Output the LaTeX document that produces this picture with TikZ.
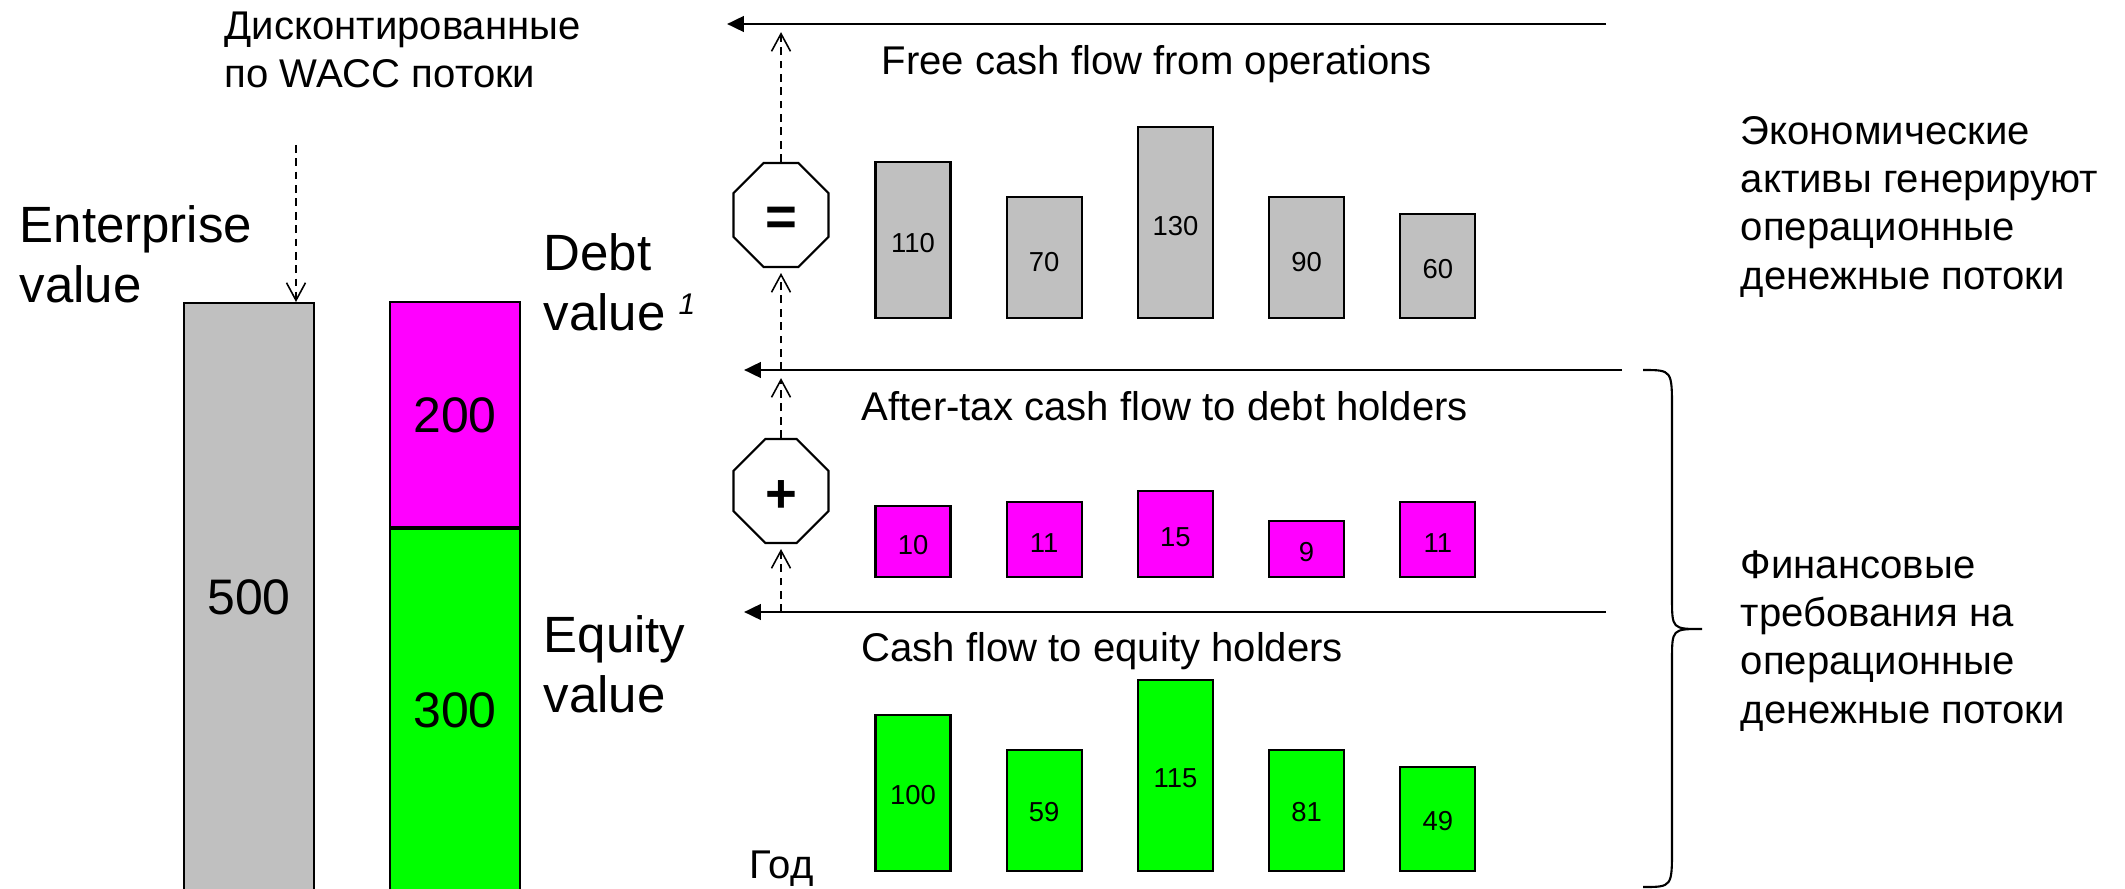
\documentclass[tikz,border=0pt]{standalone}
\usepackage{fontspec}
\setmainfont{Liberation Sans}
\usetikzlibrary{arrows.meta,shapes.misc}
\definecolor{cfgray}{HTML}{C0C0C0}
\definecolor{cfdebt}{HTML}{FF00FF}
\definecolor{cfequity}{HTML}{00FF00}

\begin{document}
\begin{tikzpicture}[x=0.01cm,y=-0.01cm,
  lbl/.style={inner sep=0pt,anchor=base west,align=left,font=\fontsize{11.4}{13.7}\selectfont},
  biglbl/.style={inner sep=0pt,anchor=base west,align=left,font=\fontsize{14.5}{17}\selectfont},
  bignum/.style={inner sep=0pt,font=\fontsize{14.2}{17}\selectfont},
  num/.style={inner sep=0pt,font=\fontsize{7.8}{9}\selectfont},
  bar/.style={draw,line width=0.6pt,inner sep=0pt,minimum width=0.75cm,anchor=south},
  bigbar/.style={draw,line width=0.6pt,inner sep=0pt,minimum width=1.3cm,anchor=north},
  octa/.style={draw,line width=0.6pt,fill=white,chamfered rectangle,
    chamfered rectangle xsep=0.28cm,chamfered rectangle ysep=0.275cm,
    minimum width=0.95cm,minimum height=1.04cm,inner sep=0pt,
    font=\fontsize{15.5}{17}\selectfont\bfseries},
  mainarrow/.style={line width=0.8pt,-{Triangle[length=4.8pt,width=4.4pt]}},
  dasharrow/.style={line width=0.45pt,dash pattern=on 2.2pt off 1.6pt,
    -{Straight Barb[length=5pt,width=5.4pt]}}]
  \useasboundingbox (0,0) rectangle (2125,888);
  \clip (0,0) rectangle (2125,888);

  % left: values
  \node[bigbar,fill=cfgray,minimum height=6cm] (ev) at (249,302) {};
  \node[bigbar,fill=cfdebt,minimum height=2.25cm] (dv) at (455,301) {};
  \node[bigbar,fill=cfequity,minimum height=3.8cm] (qv) at (dv.south) {};
  \node[bignum] (evnum) at (249,597) {500};
  \node[bignum] (dvnum) at (455,415) {200};
  \node[bignum] (qvnum) at (455,710) {300};
  \node[biglbl] (evlbl) at (19,302) {Enterprise\\value};
  \node[biglbl] (dvlbl) at (543,330) {Debt\\value};
  \node[inner sep=0pt,font=\fontsize{8.5}{10}\selectfont\itshape] (dvnote) at (687,304) {1};
  \node[biglbl] (qvlbl) at (543,712) {Equity\\value};
  \node[lbl] (dsc) at (224,88) {Дисконтированные\\по WACC потоки};
  \coordinate (dscS) at (296,145);
  \draw[dasharrow] (dscS) -- (dscS |- ev.north);

  % flow lines
  \coordinate (fcfR) at (1606,24);  \coordinate (fcfL) at (727,24);
  \coordinate (dbtR) at (1622,370); \coordinate (dbtL) at (744,370);
  \coordinate (eqtR) at (1606,612); \coordinate (eqtL) at (744,612);
  \draw[mainarrow] (fcfR) -- (fcfL);
  \draw[mainarrow] (dbtR) -- (dbtL);
  \draw[mainarrow] (eqtR) -- (eqtL);
  \node[lbl] (fcflbl) at (881,75) {Free cash flow from operations};
  \node[lbl] (dbtlbl) at (861,420) {After-tax cash flow to debt holders};
  \node[lbl] (eqtlbl) at (861,661) {Cash flow to equity holders};
  \node[lbl] (year) at (749,878) {Год};

  % bars
  \foreach \v/\t/\l [count=\i] in {110/163/243,70/198/262,130/128/226,90/198/262,60/215/269}{
    \node[bar,fill=cfgray,minimum height={(319-\t)*0.01cm}] (fcf\i) at ({913+131.2*(\i-1)},319) {};
    \node[num] (fcfv\i) at ({913+131.2*(\i-1)},\l) {\v};
  }
  \foreach \v/\t/\l [count=\i] in {10/507/545,11/503/543,15/492/537,9/522/552,11/503/543}{
    \node[bar,fill=cfdebt,minimum height={(578-\t)*0.01cm}] (dbt\i) at ({913+131.2*(\i-1)},578) {};
    \node[num] (dbtv\i) at ({913+131.2*(\i-1)},\l) {\v};
  }
  \foreach \v/\t/\l [count=\i] in {100/716/795,59/751/812,115/681/778,81/751/812,49/768/821}{
    \node[bar,fill=cfequity,minimum height={(872-\t)*0.01cm}] (eqt\i) at ({913+131.2*(\i-1)},872) {};
    \node[num] (eqtv\i) at ({913+131.2*(\i-1)},\l) {\v};
  }

  % sums
  \node[octa] (eq) at (781,215) {\raisebox{-1.9pt}[\height][\depth]{=}};
  \node[octa] (pl) at (781,491) {\raisebox{-1.5pt}[\height][\depth]{+}};
  \coordinate (fcfJ) at (781,24);
  \coordinate (dbtJ) at (781,370);
  \coordinate (eqtJ) at (781,612);
  \draw[dasharrow,shorten >=2.3pt] (eq.north) -- (fcfJ);
  \draw[dasharrow,shorten >=1.4pt] (dbtJ) -- (eq.south);
  \draw[dasharrow,shorten >=2.3pt] (pl.north) -- (dbtJ);
  \draw[dasharrow,shorten >=1.4pt] (eqtJ) -- (pl.south);

  % right
  \draw[line width=0.6pt] (1643,370) .. controls (1672,370) .. (1672,410) -- (1672,598)
    .. controls (1672,629) .. (1702,629) .. controls (1672,629) .. (1672,660) -- (1672,848)
    .. controls (1672,887) .. (1643,887);
  \node[lbl] (eco) at (1740,289) {Экономические\\активы генерируют\\операционные\\денежные потоки};
  \node[lbl] (fin) at (1740,723) {Финансовые\\требования на\\операционные\\денежные потоки};
\end{tikzpicture}
\end{document}
